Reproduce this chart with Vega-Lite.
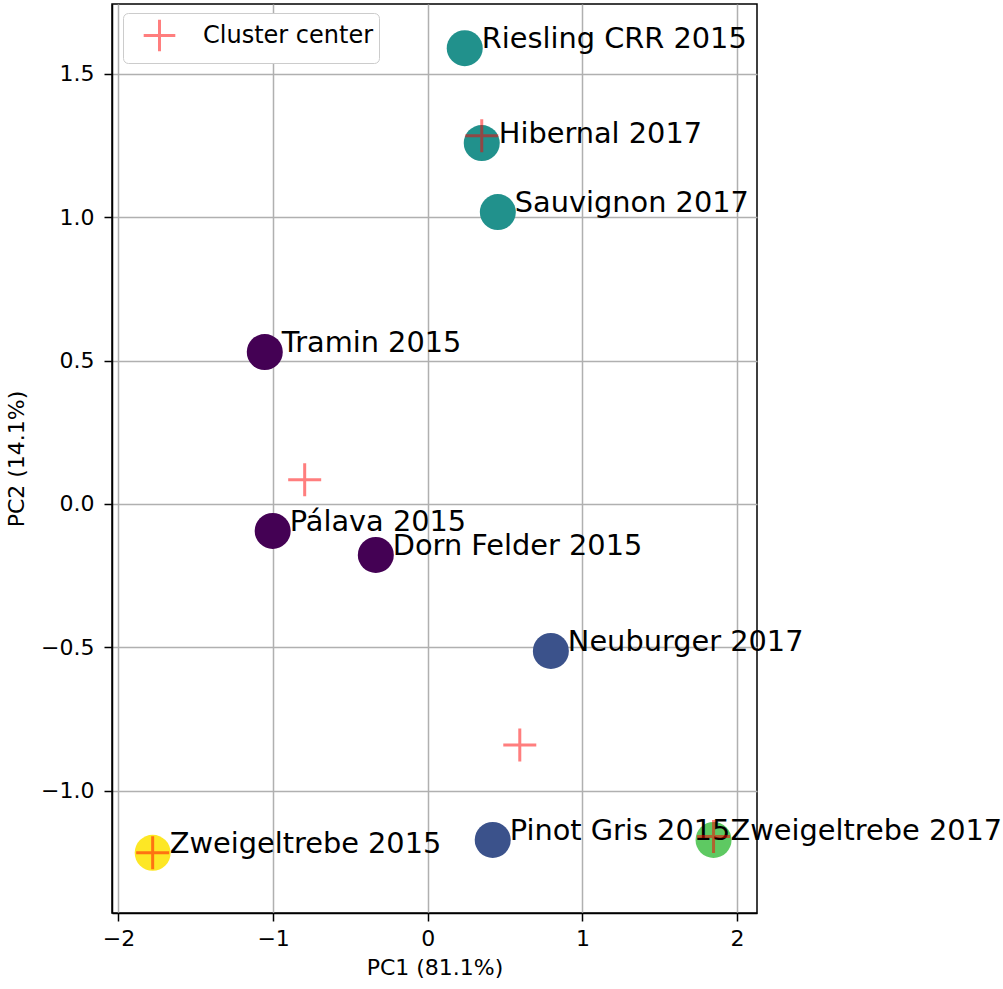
{
  "$schema": "https://vega.github.io/schema/vega-lite/v6.json",
  "width": 645,
  "height": 909,
  "autosize": "none",
  "padding": {"left": 112, "top": 4, "right": 246, "bottom": 76},
  "background": "white",
  "config": {
    "font": "DejaVu Sans",
    "view": {"stroke": "black", "strokeWidth": 1.5}
  },
  "datasets": {
    "wines": [
      {"name": "Riesling CRR 2015", "pc1": 0.239, "pc2": 1.59, "cluster": "2"},
      {"name": "Hibernal 2017", "pc1": 0.349, "pc2": 1.259, "cluster": "2"},
      {"name": "Sauvignon 2017", "pc1": 0.453, "pc2": 1.018, "cluster": "2"},
      {"name": "Tramin 2015", "pc1": -1.054, "pc2": 0.53, "cluster": "0"},
      {"name": "Pálava 2015", "pc1": -1.003, "pc2": -0.094, "cluster": "0"},
      {"name": "Dorn Felder 2015", "pc1": -0.336, "pc2": -0.178, "cluster": "0"},
      {"name": "Neuburger 2017", "pc1": 0.796, "pc2": -0.513, "cluster": "1"},
      {"name": "Pinot Gris 2015", "pc1": 0.42, "pc2": -1.172, "cluster": "1"},
      {"name": "Zweigeltrebe 2017", "pc1": 1.848, "pc2": -1.172, "cluster": "3"},
      {"name": "Zweigeltrebe 2015", "pc1": -1.779, "pc2": -1.217, "cluster": "4"}
    ],
    "centers": [
      {"label": "Cluster center", "pc1": -0.796, "pc2": 0.084},
      {"label": "Cluster center", "pc1": 0.349, "pc2": 1.284},
      {"label": "Cluster center", "pc1": 0.595, "pc2": -0.841},
      {"label": "Cluster center", "pc1": 1.848, "pc2": -1.16},
      {"label": "Cluster center", "pc1": -1.779, "pc2": -1.217}
    ]
  },
  "resolve": {"scale": {"color": "independent"}},
  "layer": [
    {
      "data": {"name": "wines"},
      "mark": {"type": "point", "shape": "circle", "filled": true, "opacity": 1, "size": 1296},
      "encoding": {
        "x": {
          "field": "pc1", "type": "quantitative", "title": "PC1 (81.1%)",
          "scale": {"domain": [-2.042, 2.129], "nice": false, "zero": false},
          "axis": {"values": [-2, -1, 0, 1, 2], "format": "d", "labelPadding": 7, "titlePadding": 8,
            "labelFont": "DejaVu Sans", "titleFont": "DejaVu Sans", "labelFontSize": 22, "titleFontSize": 22,
            "titleFontWeight": "normal", "labelColor": "black", "titleColor": "black",
            "domainColor": "black", "domainWidth": 1.5, "tickColor": "black", "tickWidth": 1.5, "tickSize": 8,
            "gridColor": "#b0b0b0", "gridWidth": 1.5, "gridOpacity": 1}
        },
        "y": {
          "field": "pc2", "type": "quantitative", "title": "PC2 (14.1%)",
          "scale": {"domain": [-1.427, 1.744], "nice": false, "zero": false},
          "axis": {"values": [-1, -0.5, 0, 0.5, 1, 1.5], "format": ".1f", "labelPadding": 10, "titlePadding": 12,
            "labelFont": "DejaVu Sans", "titleFont": "DejaVu Sans", "labelFontSize": 22, "titleFontSize": 22,
            "titleFontWeight": "normal", "labelColor": "black", "titleColor": "black",
            "domainColor": "black", "domainWidth": 1.5, "tickColor": "black", "tickWidth": 1.5, "tickSize": 8,
            "gridColor": "#b0b0b0", "gridWidth": 1.5, "gridOpacity": 1}
        },
        "color": {
          "field": "cluster", "type": "nominal", "legend": null,
          "scale": {"domain": ["0", "1", "2", "3", "4"], "range": ["#440154", "#3b528b", "#21918c", "#5ec962", "#fde725"]}
        }
      }
    },
    {
      "data": {"name": "wines"},
      "mark": {"type": "text", "align": "left", "baseline": "alphabetic", "dx": 17, "dy": 0, "fontSize": 28.8, "font": "DejaVu Sans", "color": "black"},
      "encoding": {
        "x": {"field": "pc1", "type": "quantitative"},
        "y": {"field": "pc2", "type": "quantitative"},
        "text": {"field": "name", "type": "nominal"}
      }
    },
    {
      "data": {"name": "centers"},
      "mark": {"type": "point", "shape": "M-1,0L1,0M0,-1L0,1", "filled": false, "strokeWidth": 3, "opacity": 0.5, "size": 1089},
      "encoding": {
        "x": {"field": "pc1", "type": "quantitative"},
        "y": {"field": "pc2", "type": "quantitative"},
        "color": {
          "field": "label", "type": "nominal",
          "scale": {"domain": ["Cluster center"], "range": ["red"]},
          "legend": {
            "title": null,
            "orient": "none",
            "legendX": 11,
            "legendY": 9,
            "padding": 5,
            "fillColor": "white",
            "strokeColor": "#cccccc",
            "cornerRadius": 5,
            "labelFontSize": 24,
            "labelFont": "DejaVu Sans",
            "labelColor": "black",
            "labelLimit": 400,
            "symbolType": "M-1,0L1,0M0,-1L0,1",
            "symbolSize": 1000,
            "symbolStrokeWidth": 3,
            "symbolOpacity": 0.5,
            "symbolFillColor": "transparent",
            "symbolOffset": 14,
            "labelOffset": 26
          }
        }
      }
    }
  ]
}
